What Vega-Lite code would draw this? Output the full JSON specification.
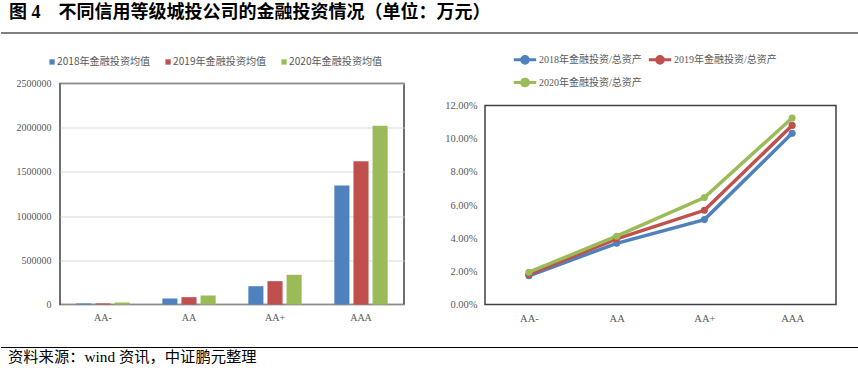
{
  "$schema": "https://vega.github.io/schema/vega-lite/v6.json",
  "padding": 0,
  "background": "white",
  "spacing": 12.5,
  "config": {"view": {"stroke": null}},
  "vconcat": [
    {
      "width": 799,
      "height": 33,
      "data": {"values": [{"label": "图 4　不同信用等级城投公司的金融投资情况（单位：万元）"}]},
      "layer": [
        {
          "mark": {"type": "rule", "color": "#000000", "strokeWidth": 1},
          "encoding": {
            "x": {"datum": 0, "type": "quantitative", "scale": {"domain": [0, 1], "range": [-59, 799]}, "axis": null},
            "x2": {"datum": 1},
            "y": {"datum": 0, "type": "quantitative", "scale": {"domain": [0, 1]}, "axis": null}
          }
        },
        {
          "mark": {"type": "text", "align": "left", "baseline": "middle", "dx": 8, "font": "Liberation Serif, Noto Sans CJK SC", "fontSize": 18, "fontWeight": "bold", "color": "#000000"},
          "encoding": {
            "x": {"datum": 0, "type": "quantitative"},
            "y": {"datum": 0.6, "type": "quantitative"},
            "text": {"field": "label"}
          }
        }
      ]
    },
    {
      "spacing": 38,
      "resolve": {"scale": {"color": "independent"}},
      "hconcat": [
        {
          "width": 344,
          "height": 221,
          "view": {"stroke": "#404040", "strokeWidth": 1.5},
          "data": {"values": [
            {"rating": "AA-", "series": "2018年金融投资均值", "value": 12000},
            {"rating": "AA-", "series": "2019年金融投资均值", "value": 13000},
            {"rating": "AA-", "series": "2020年金融投资均值", "value": 22000},
            {"rating": "AA", "series": "2018年金融投资均值", "value": 68000},
            {"rating": "AA", "series": "2019年金融投资均值", "value": 83000},
            {"rating": "AA", "series": "2020年金融投资均值", "value": 102000},
            {"rating": "AA+", "series": "2018年金融投资均值", "value": 207000},
            {"rating": "AA+", "series": "2019年金融投资均值", "value": 264000},
            {"rating": "AA+", "series": "2020年金融投资均值", "value": 336000},
            {"rating": "AAA", "series": "2018年金融投资均值", "value": 1346000},
            {"rating": "AAA", "series": "2019年金融投资均值", "value": 1621000},
            {"rating": "AAA", "series": "2020年金融投资均值", "value": 2021000}
          ]},
          "mark": {"type": "bar"},
          "encoding": {
            "x": {"field": "rating", "type": "nominal", "sort": ["AA-", "AA", "AA+", "AAA"],
              "scale": {"paddingInner": 0.38, "paddingOuter": 0.19},
              "axis": {"title": null, "labelAngle": 0, "ticks": false, "domain": false, "labelFont": "Liberation Serif", "labelFontSize": 10, "labelColor": "#595959", "labelPadding": 8}},
            "xOffset": {"field": "series", "type": "nominal", "scale": {"paddingInner": 0.21, "paddingOuter": 0}},
            "y": {"field": "value", "type": "quantitative", "scale": {"domain": [0, 2500000]},
              "axis": {"title": null, "values": [0, 500000, 1000000, 1500000, 2000000, 2500000], "format": "d", "ticks": false, "domain": false, "gridColor": "#D9D9D9", "labelFont": "Liberation Serif", "labelFontSize": 10, "labelColor": "#595959", "labelPadding": 9, "minExtent": 59, "labelOverlap": false}},
            "color": {"field": "series", "type": "nominal",
              "scale": {"domain": ["2018年金融投资均值", "2019年金融投资均值", "2020年金融投资均值"], "range": ["#4F81BD", "#C0504D", "#9BBB59"]},
              "legend": {"orient": "none", "legendX": -13, "legendY": -27, "direction": "horizontal", "title": null, "symbolType": "square", "symbolSize": 28, "labelFont": "Noto Sans CJK SC", "labelFontSize": 10.1, "labelColor": "#595959", "columnPadding": 12, "labelOffset": 0}}
          }
        },
        {
          "width": 351,
          "height": 221,
          "data": {"values": [
            {"rating": "AA-", "series": "2018年金融投资/总资产", "ratio": 0.0173},
            {"rating": "AA", "series": "2018年金融投资/总资产", "ratio": 0.0369},
            {"rating": "AA+", "series": "2018年金融投资/总资产", "ratio": 0.0512},
            {"rating": "AAA", "series": "2018年金融投资/总资产", "ratio": 0.1032},
            {"rating": "AA-", "series": "2019年金融投资/总资产", "ratio": 0.0181},
            {"rating": "AA", "series": "2019年金融投资/总资产", "ratio": 0.0396},
            {"rating": "AA+", "series": "2019年金融投资/总资产", "ratio": 0.0568},
            {"rating": "AAA", "series": "2019年金融投资/总资产", "ratio": 0.108},
            {"rating": "AA-", "series": "2020年金融投资/总资产", "ratio": 0.0195},
            {"rating": "AA", "series": "2020年金融投资/总资产", "ratio": 0.0412},
            {"rating": "AA+", "series": "2020年金融投资/总资产", "ratio": 0.0645},
            {"rating": "AAA", "series": "2020年金融投资/总资产", "ratio": 0.1125}
          ]},
          "layer": [
            {
              "transform": [{"filter": "datum.rating === 'AA-' && datum.series === '2018年金融投资/总资产'"}],
              "mark": {"type": "rect", "filled": false, "color": "#404040", "strokeWidth": 1.5},
              "encoding": {
                "y": {"datum": 0, "type": "quantitative", "scale": {"domain": [0, 0.13327], "nice": false},
                  "axis": {"title": null, "values": [0, 0.02, 0.04, 0.06, 0.08, 0.1, 0.12], "format": ".2%", "ticks": false, "domain": false, "gridColor": "#D9D9D9", "labelFont": "Liberation Serif", "labelFontSize": 10.5, "labelColor": "#595959", "labelPadding": 8, "minExtent": 42, "labelOverlap": false}},
                "y2": {"datum": 0.12}
              }
            },
            {
              "mark": {"type": "line", "strokeWidth": 3.5, "point": {"filled": true, "size": 50}},
              "encoding": {
                "x": {"field": "rating", "type": "ordinal", "sort": ["AA-", "AA", "AA+", "AAA"],
                  "scale": {"type": "point", "padding": 0.5},
                  "axis": {"title": null, "labelAngle": 0, "ticks": false, "domain": false, "labelFont": "Liberation Serif", "labelFontSize": 10.5, "labelColor": "#595959", "labelPadding": 9}},
                "y": {"field": "ratio", "type": "quantitative", "scale": {"domain": [0, 0.13327], "nice": false},
                  "axis": {"title": null, "values": [0, 0.02, 0.04, 0.06, 0.08, 0.1, 0.12], "format": ".2%", "ticks": false, "domain": false, "gridColor": "#D9D9D9", "labelFont": "Liberation Serif", "labelFontSize": 10.5, "labelColor": "#595959", "labelPadding": 8, "minExtent": 42, "labelOverlap": false}},
                "color": {"field": "series", "type": "nominal",
                  "scale": {"domain": ["2018年金融投资/总资产", "2019年金融投资/总资产", "2020年金融投资/总资产"], "range": ["#4F81BD", "#C0504D", "#9BBB59"]},
                  "legend": {"orient": "none", "legendX": 27, "legendY": -37, "columns": 2, "direction": "horizontal", "title": null,
                    "symbolType": "M-1,0H1M0.3,0A0.3,0.3,0,1,1,-0.3,0A0.3,0.3,0,1,1,0.3,0", "symbolSize": 500, "symbolStrokeWidth": 3,
                    "labelFont": "Liberation Serif, Noto Sans CJK SC", "labelFontSize": 10, "labelColor": "#595959", "columnPadding": 0, "rowPadding": 0, "labelOffset": 1,
                    "encode": {"symbols": {"update": {"fill": {"signal": "datum.value === '2018年金融投资/总资产' ? '#4F81BD' : datum.value === '2019年金融投资/总资产' ? '#C0504D' : '#9BBB59'"}}}}}}
              }
            }
          ]
        }
      ]
    },
    {
      "width": 799,
      "height": 36,
      "data": {"values": [{"label": "资料来源：wind 资讯，中证鹏元整理"}]},
      "layer": [
        {
          "mark": {"type": "rule", "color": "#000000", "strokeWidth": 1},
          "encoding": {
            "x": {"datum": 0, "type": "quantitative", "scale": {"domain": [0, 1], "range": [-59, 799]}, "axis": null},
            "x2": {"datum": 1},
            "y": {"datum": 0.2917, "type": "quantitative", "scale": {"domain": [0, 1], "reverse": true}, "axis": null}
          }
        },
        {
          "mark": {"type": "text", "align": "left", "baseline": "middle", "dx": 7, "font": "Liberation Serif, Noto Sans CJK SC", "fontSize": 15.3, "color": "#000000"},
          "encoding": {
            "x": {"datum": 0, "type": "quantitative"},
            "y": {"datum": 0.5417, "type": "quantitative"},
            "text": {"field": "label"}
          }
        }
      ]
    }
  ]
}
